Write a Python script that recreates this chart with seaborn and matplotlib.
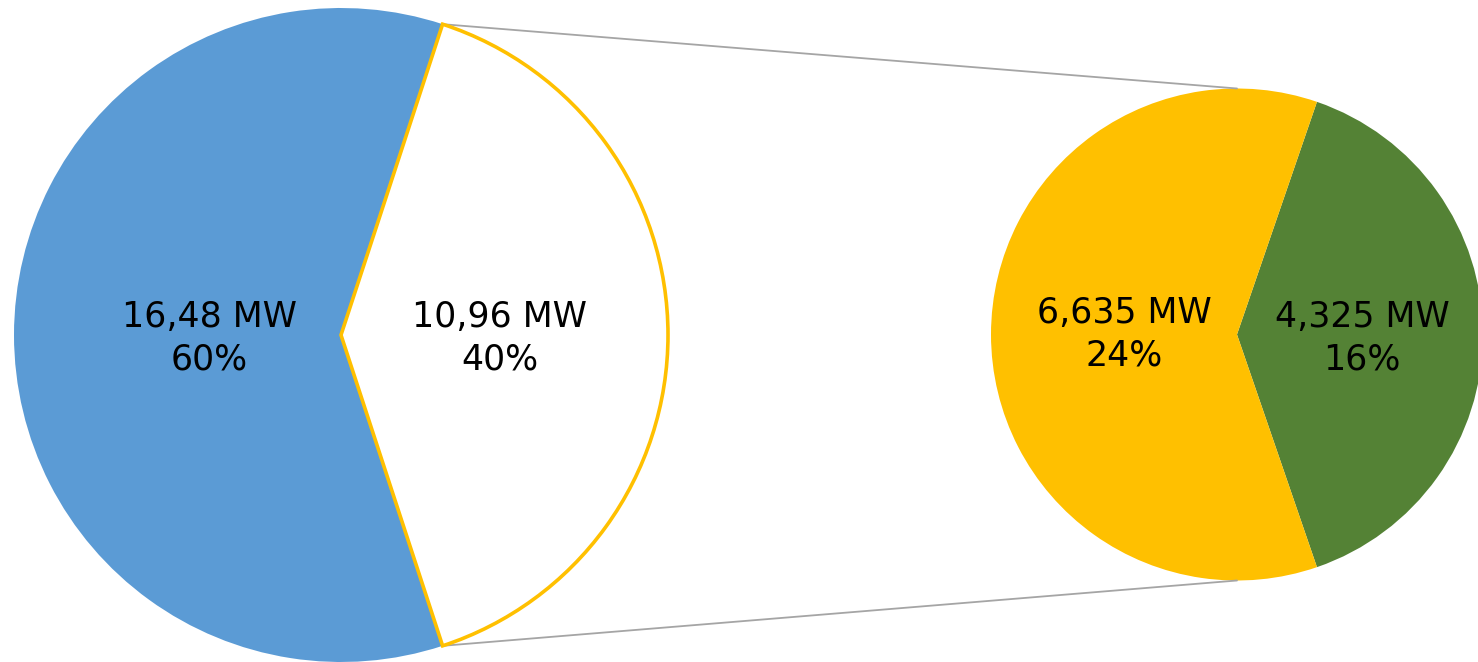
import matplotlib
matplotlib.use("Agg")
import matplotlib.pyplot as plt
import seaborn as sns
import numpy as np

sns.set_theme(style="white")
plt.rcParams['font.family'] = ['DejaVu Sans']

# Installed capacity (MW): main split and breakdown of the second part
main_labels = ["Rest", "Split"]
main_values = [16.48, 10.96]
sub_labels = ["Part A", "Part B"]
sub_values = [6.635, 4.325]

blue = "#5B9BD5"
gold = "#FFC000"
green = "#548235"
grey = "#A5A5A5"

W, H = 1478, 662
fig = plt.figure(figsize=(W / 100, H / 100), dpi=100)
ax = fig.add_axes([0, 0, 1, 1])

total = sum(main_values)

def fmt(v):
    s = f"{v:g}".replace(".", ",")
    return f"{s} MW\n{v / total * 100:.0f}%"

# Main pie: highlighted slice centred on the right side
c1, r1 = (341, 327), 327
span1 = 360 * main_values[1] / total
wedges1, _ = ax.pie(main_values[::-1], center=c1, radius=r1,
                    startangle=-span1 / 2, counterclock=True,
                    colors=["white", blue])
wedges1[0].set_edgecolor(gold)
wedges1[0].set_linewidth(2.6)
wedges1[0].set_zorder(3)
wedges1[1].set_edgecolor("none")

# Secondary pie breaking down the highlighted slice
c2, r2 = (1237, 327.5), 246
sub_total = sum(sub_values)
span2 = 360 * sub_values[1] / sub_total
wedges2, _ = ax.pie(sub_values[::-1], center=c2, radius=r2,
                    startangle=-span2 / 2, counterclock=True,
                    colors=[green, gold],
                    wedgeprops=dict(edgecolor="none"))

# Connector lines from the slice edge to the top / bottom of the second pie
a = np.deg2rad(span1 / 2)
p_top = (c1[0] + r1 * np.cos(a), c1[1] + r1 * np.sin(a))
p_bot = (c1[0] + r1 * np.cos(a), c1[1] - r1 * np.sin(a))
ax.plot([p_top[0], c2[0]], [p_top[1], c2[1] + r2], color=grey, lw=1.3, zorder=1)
ax.plot([p_bot[0], c2[0]], [p_bot[1], c2[1] - r2], color=grey, lw=1.3, zorder=1)

kw = dict(ha="center", va="center", fontsize=25, color="black",
          linespacing=1.3, zorder=5)
ax.text(209, 324, fmt(main_values[0]), **kw)
ax.text(500, 324, fmt(main_values[1]), **kw)
ax.text(1124, 328, fmt(sub_values[0]), **kw)
ax.text(1362, 324, fmt(sub_values[1]), **kw)

ax.set_xlim(0, W)
ax.set_ylim(0, H)
ax.set_aspect("equal")
ax.axis("off")
fig.savefig("out.png", dpi=100, facecolor="white")
